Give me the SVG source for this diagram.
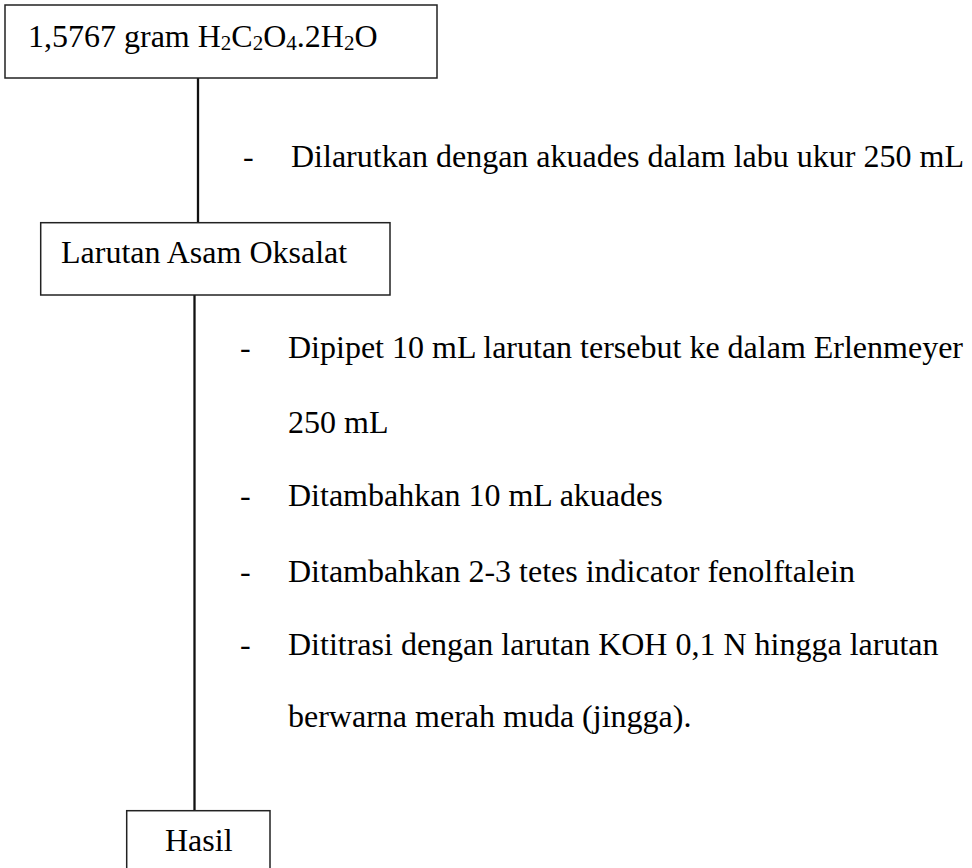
<svg xmlns="http://www.w3.org/2000/svg" width="972" height="868" viewBox="0 0 972 868">
<style>
.box{fill:#fff;stroke:#222;stroke-width:1.5}
.conn{stroke:#111;stroke-width:2.3;fill:none}
text{font-family:"Liberation Serif","Times New Roman",serif;font-size:32px;fill:#000}
.sub{font-size:21px}
</style>
<rect width="972" height="868" fill="#fff"/>
<g id="connectors">
<line class="conn" x1="198" y1="78" x2="198" y2="223"/>
<line class="conn" x1="194.5" y1="295" x2="194.5" y2="811"/>
</g>
<g id="node-start">
<rect class="box" x="5" y="5" width="432" height="73"/>
<text x="28" y="46.7">1,5767 gram H<tspan class="sub" dy="3">2</tspan><tspan dy="-3">C</tspan><tspan class="sub" dy="3">2</tspan><tspan dy="-3">O</tspan><tspan class="sub" dy="3">4</tspan><tspan dy="-3">.2H</tspan><tspan class="sub" dy="3">2</tspan><tspan dy="-3">O</tspan></text>
</g>
<g id="step-1">
<text x="243" y="167">-</text>
<text x="291" y="167" textLength="673" lengthAdjust="spacingAndGlyphs">Dilarutkan dengan akuades dalam labu ukur 250 mL</text>
</g>
<g id="node-larutan">
<rect class="box" x="40.7" y="222.7" width="349.3" height="72.3"/>
<text x="61" y="262.7">Larutan Asam Oksalat</text>
</g>
<g id="step-2">
<text x="240" y="358.3">-</text>
<text x="288" y="358.3">Dipipet 10 mL larutan tersebut ke dalam Erlenmeyer</text>
<text x="288" y="432.7">250 mL</text>
<text x="240" y="506">-</text>
<text x="288" y="506">Ditambahkan 10 mL akuades</text>
<text x="240" y="581.5">-</text>
<text x="288" y="581.5">Ditambahkan 2-3 tetes indicator fenolftalein</text>
<text x="240" y="655">-</text>
<text x="288" y="655">Dititrasi dengan larutan KOH 0,1 N hingga larutan</text>
<text x="288" y="726.7">berwarna merah muda (jingga).</text>
</g>
<g id="node-hasil">
<rect class="box" x="126.7" y="810.7" width="143.3" height="70"/>
<text x="165" y="850.7">Hasil</text>
</g>
</svg>
